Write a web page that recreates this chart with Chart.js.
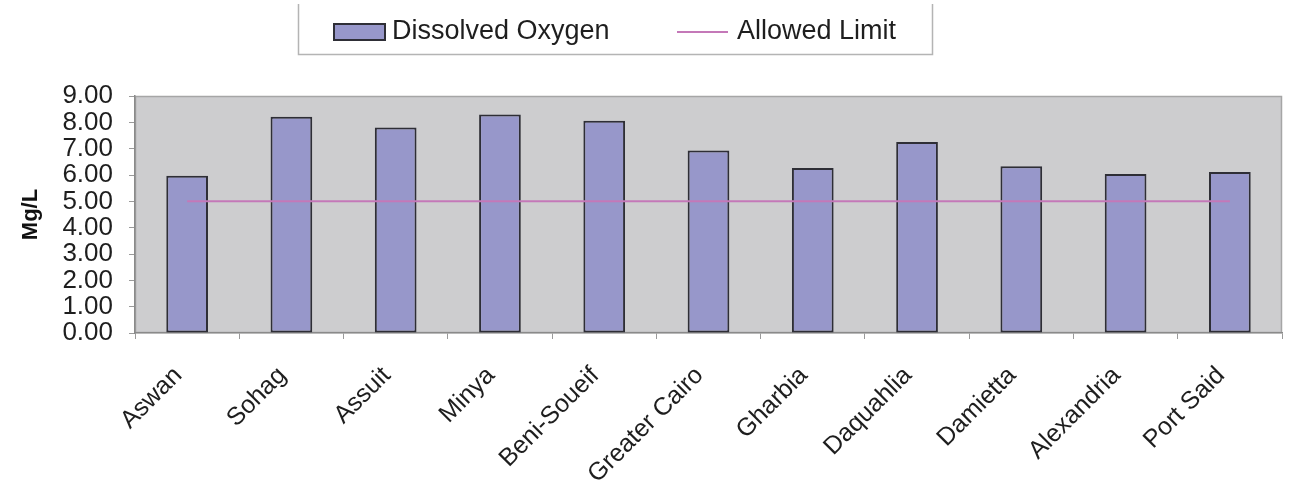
<!DOCTYPE html>
<html>
<head>
<meta charset="utf-8">
<script src="https://cdn.jsdelivr.net/npm/chart.js@4/dist/chart.umd.min.js"></script>
<style>
  html, body { margin: 0; padding: 0; background: #ffffff; }
  #wrap { width: 1294px; height: 489px; position: relative; }
</style>
</head>
<body>
<div id="wrap"><canvas id="c" width="1294" height="489"></canvas></div>
<script>
// Dissolved oxygen by governorate along the Nile (mg/L)
const governorates = ['Aswan', 'Sohag', 'Assuit', 'Minya', 'Beni-Soueif', 'Greater Cairo',
  'Gharbia', 'Daquahlia', 'Damietta', 'Alexandria', 'Port Said'];
const dissolvedOxygen = [5.97, 8.21, 7.80, 8.30, 8.06, 6.93, 6.27, 7.25, 6.33, 6.04, 6.11];
const allowedLimit = [5, 5, 5, 5, 5, 5, 5, 5, 5, 5, 5];
const yTicks = [0, 1, 2, 3, 4, 5, 6, 7, 8, 9];

const FONT = '"Liberation Sans", Arial, sans-serif';
const BAR_FILL = '#9797ca';
const BAR_EDGE = '#2e2e36';
const LIMIT_COLOR = '#c478b8';

// Grey plot background with a thin frame
const plotBackground = {
  id: 'plotBackground',
  beforeDraw(chart) {
    const { ctx, chartArea: a } = chart;
    ctx.save();
    ctx.fillStyle = '#cdcdcf';
    ctx.fillRect(a.left, a.top, a.right - a.left, a.bottom - a.top);
    ctx.strokeStyle = '#a6a6a6';
    ctx.lineWidth = 1.5;
    ctx.strokeRect(a.left + 0.5, a.top + 0.5, a.right - a.left - 1, a.bottom - a.top - 1);
    ctx.restore();
  }
};

// Framed legend above the plot, styled from the datasets
const framedLegend = {
  id: 'framedLegend',
  afterDraw(chart) {
    const { ctx } = chart;
    const ds = chart.data.datasets;
    ctx.save();
    // frame
    ctx.strokeStyle = '#b4b4b4';
    ctx.lineWidth = 1.5;
    ctx.beginPath();
    ctx.moveTo(298.5, 4);
    ctx.lineTo(298.5, 54.5);
    ctx.lineTo(932.5, 54.5);
    ctx.lineTo(932.5, 4);
    ctx.stroke();

    ctx.font = '27px ' + FONT;
    ctx.textBaseline = 'middle';
    ctx.textAlign = 'left';
    const cy = 32;
    // bar swatch
    ctx.fillStyle = ds[0].backgroundColor;
    ctx.fillRect(334, 24, 51, 16);
    ctx.strokeStyle = ds[0].borderColor;
    ctx.lineWidth = 2;
    ctx.strokeRect(334, 24, 51, 16);
    ctx.fillStyle = '#1e1e1e';
    ctx.fillText(ds[0].label, 392, cy);
    // line swatch
    ctx.strokeStyle = ds[1].borderColor;
    ctx.lineWidth = 2;
    ctx.beginPath();
    ctx.moveTo(677, cy);
    ctx.lineTo(728, cy);
    ctx.stroke();
    ctx.fillText(ds[1].label, 737, cy);
    ctx.restore();
  }
};

new Chart(document.getElementById('c'), {
  data: {
    labels: governorates,
    datasets: [
      {
        type: 'bar',
        label: 'Dissolved Oxygen',
        data: dissolvedOxygen,
        backgroundColor: BAR_FILL,
        borderColor: BAR_EDGE,
        borderWidth: 2,
        borderSkipped: false,
        categoryPercentage: 1.0,
        barPercentage: 0.4,
        order: 2
      },
      {
        type: 'line',
        label: 'Allowed Limit',
        data: allowedLimit,
        borderColor: LIMIT_COLOR,
        borderWidth: 2,
        pointRadius: 0,
        fill: false,
        order: 1
      }
    ]
  },
  options: {
    responsive: false,
    animation: false,
    devicePixelRatio: 1,
    layout: { padding: { top: 96, right: 12, left: 0, bottom: 0 } },
    plugins: {
      legend: { display: false },
      tooltip: { enabled: false }
    },
    scales: {
      x: {
        offset: true,
        afterFit(scale) { scale.height = 156; },
        grid: {
          offset: true,
          drawOnChartArea: false,
          drawTicks: true,
          tickLength: 6,
          color: '#9a9a9a'
        },
        border: { display: true, color: '#8a8a8a', width: 1.5 },
        ticks: {
          color: '#1e1e1e',
          font: { family: FONT, size: 25 },
          maxRotation: 45,
          minRotation: 45,
          autoSkip: false,
          padding: 22,
          labelOffset: -9
        }
      },
      y: {
        min: 0,
        max: 9,
        afterFit(scale) { scale.width = 135; },
        afterBuildTicks(scale) { scale.ticks = yTicks.map(v => ({ value: v })); },
        grid: {
          drawOnChartArea: false,
          drawTicks: true,
          tickLength: 6,
          color: '#9a9a9a'
        },
        border: { display: true, color: '#8a8a8a', width: 1.5 },
        ticks: {
          color: '#1e1e1e',
          font: { family: FONT, size: 26 },
          padding: 16,
          autoSkip: false,
          callback: v => Number(v).toFixed(2)
        },
        title: {
          display: true,
          text: 'Mg/L',
          color: '#111111',
          font: { family: FONT, size: 22, weight: 'bold' },
          padding: { top: 18, bottom: 0 }
        }
      }
    }
  },
  plugins: [plotBackground, framedLegend]
});
</script>
</body>
</html>
